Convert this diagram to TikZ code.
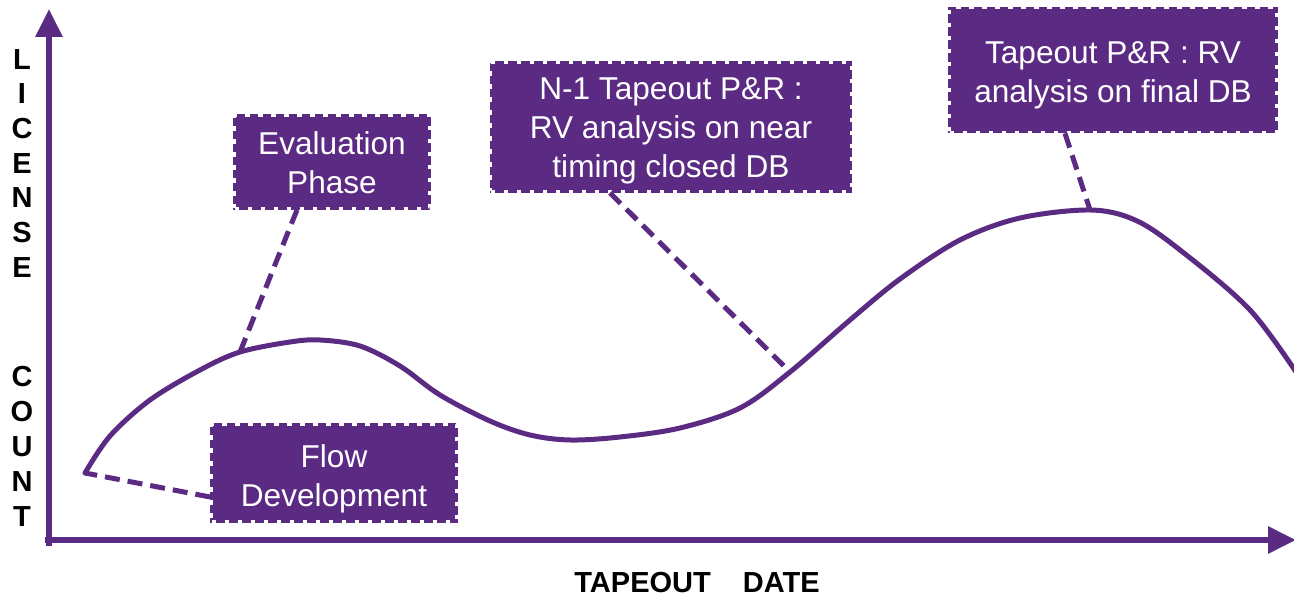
\documentclass[tikz,border=0pt]{standalone}
\usepackage{fontspec}
\setmainfont{Liberation Sans}
\usetikzlibrary{arrows.meta}
\definecolor{pur}{RGB}{91,42,131}
\tikzset{
  x=0.5pt, y=-0.5pt,
  infobox/.style={fill=pur, draw=pur, line width=1.4pt, inner sep=0pt,
    postaction={draw=white, line width=1.4pt, dash pattern=on 2.2pt off 4.3pt}},
  boxtext/.style={text=white, align=center, font=\fontsize{15.8}{19.6}\selectfont, inner sep=0pt},
  conn/.style={draw=pur, line width=2.5pt, dash pattern=on 7.5pt off 4pt},
  curveline/.style={draw=pur, line width=2.5pt, line cap=round, line join=round},
  axis/.style={draw=pur, line width=3pt, -{Triangle[length=14pt,width=13pt]}},
  axlabel/.style={font=\fontsize{14.5}{14.5}\bfseries\selectfont, text=black, inner sep=0pt}
}
\begin{document}
\begin{tikzpicture}
\useasboundingbox (0,0) rectangle (1294,597);
\clip (0,0) rectangle (1294,597);

% boxes
\node[infobox, minimum width=97.5pt, minimum height=46.5pt] (eval) at (332,162) {};
\node[boxtext] (evaltxt) at ([yshift=-0.5pt]eval.center) {Evaluation\\Phase};
\node[infobox, minimum width=180pt, minimum height=64.5pt] (nm1) at (671,127) {};
\node[boxtext] (nm1txt) at ([yshift=-2pt]nm1.center) {N-1 Tapeout P\&R :\\RV analysis on near\\timing closed DB};
\node[infobox, minimum width=163.5pt, minimum height=62pt] (final) at (1113,70) {};
\node[boxtext] (finaltxt) at ([yshift=-2.5pt]final.center) {Tapeout P\&R : RV\\analysis on final DB};
\node[infobox, minimum width=122.5pt, minimum height=48.5pt] (flow) at (334,473) {};
\node[boxtext] (flowtxt) at ([yshift=-3pt]flow.center) {Flow\\Development};

% points on the curve
\coordinate (cStart) at (85,473);
\coordinate (cEval) at (240,352);
\coordinate (cNm1) at (790,372);
\coordinate (cFinal) at (1090,210);

% connectors
\draw[conn] ([xshift=-17.5pt]eval.south) -- (cEval);
\draw[conn] ([xshift=-30.5pt]nm1.south) -- (cNm1);
\draw[conn] ([xshift=-24pt]final.south) -- (cFinal);
\draw[conn] ([yshift=-12pt]flow.west) -- (cStart);

% curve
\draw[curveline] plot[smooth, tension=0.55] coordinates {
 (85,473) (110,436) (150,400) (200,370) (240,352) (290,342) (320,340)
 (360,346) (400,366) (440,395) (490,421) (530,435) (570,440) (620,437)
 (680,428) (740,408) (790,372) (850,320) (900,279) (960,240) (1020,218)
 (1090,210) (1135,220) (1180,250) (1250,310) (1300,378)};

% axes
\coordinate (ytip) at (49,9);
\coordinate (xtip) at (1296,540);
\draw[axis] (49,546) -- (ytip);
\draw[axis] (45,540) -- (xtip);

% axis labels
\foreach \ch/\yy [count=\i] in {L/60,I/94,C/129,E/164,N/198,S/233,E/268,C/377,O/412,U/447,N/482,T/517}
  \node[axlabel] (ylab\i) at (22,\yy) {\ch};
\node[axlabel] (xlab) at (697,583) {TAPEOUT\hspace{16pt}DATE};
\end{tikzpicture}
\end{document}
